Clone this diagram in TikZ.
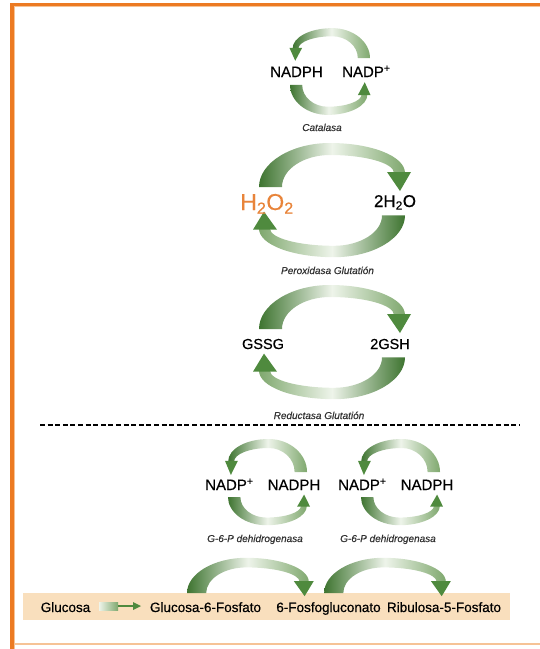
\documentclass[tikz,border=0pt]{standalone}
\usepackage{fontspec}
\setmainfont{Liberation Sans}[FakeBold=0.5]
\definecolor{frameorange}{HTML}{EC7A22}
\definecolor{frameline}{HTML}{F6C396}
\definecolor{oxorange}{HTML}{E8843A}
\definecolor{gdark}{HTML}{3E7430}
\definecolor{gmid}{HTML}{7FA86E}
\definecolor{glight}{HTML}{EEF4EA}
\definecolor{ghead}{HTML}{4F8A3E}
\definecolor{barbeige}{HTML}{F9DFBD}
\definecolor{labelgrey}{HTML}{333333}

% One curved reaction arrow: a tapering shaded band and its head.
% Template: base on the left, arching up, head on the right.
% #1 = placement (shift and scales), #2 = shading of the band
\newcommand{\bandarc}[2]{%
  \begin{scope}[#1]
    \shade[#2] (-73,12) .. controls (-73,36) and (-41,56) .. (-2,56)
      .. controls (39,56) and (73,43) .. (73,26)
      -- (62,26) .. controls (62,36) and (33,44) .. (-2,44)
      .. controls (-28,44) and (-50,30) .. (-50,12) -- cycle;
    \fill[ghead] (55,27) -- (79,27) -- (68,8) -- cycle;
  \end{scope}}

\begin{document}
\begin{tikzpicture}[x=1pt, y=-1pt,
  species/.style={font=\fontsize{15}{18}\selectfont, inner sep=0pt},
  enzyme/.style={font=\fontsize{10}{12}\selectfont\itshape, text=labelgrey, inner sep=0pt},
  pathway/.style={font=\fontsize{13.5}{16}\selectfont, inner sep=0pt},
  darkfirst/.style={left color=gdark, right color=gmid, middle color=glight},
  darklast/.style={left color=gmid, right color=gdark, middle color=glight}]
\useasboundingbox (0,0) rectangle (540,649);

% frame
\fill[frameline] (13.5,5.8) rectangle (540,6.8);
\fill[frameline] (13.5,5.8) rectangle (15,649);
\fill[frameorange] (10,3) rectangle (540,5.8);
\fill[frameorange] (10,3) rectangle (13.5,649);
\fill[frameline] (15,643.3) rectangle (540,645);

% catalase cycle
\bandarc{shift={(331.3,66.2)}, xscale=-0.53, yscale=-0.68}{darkfirst}
\bandarc{shift={(328.7,76.8)}, xscale=0.53, yscale=0.68}{darkfirst}
\node[species, anchor=base] (nadphA) at (296.5,77) {NADPH};
\node[species, anchor=base west] (nadpA) at (342,77) {NADP\textsuperscript{+}};
\node[enzyme, anchor=base] (catalasa) at (322,131) {Catalasa};

% glutathione peroxidase cycle
\bandarc{shift={(332,199)}, xscale=1, yscale=-1}{darkfirst}
\bandarc{shift={(332,204)}, xscale=-1, yscale=0.95}{darklast}
\node[anchor=base, inner sep=0pt, text=oxorange, font=\fontsize{23}{26}\selectfont]
  (hperox) at (267,210) {H\textsubscript{2}O\textsubscript{2}};
\node[anchor=base, inner sep=0pt, font=\fontsize{17}{20}\selectfont]
  (water) at (395,207) {2H\textsubscript{2}O};
\node[enzyme, anchor=base] (gpx) at (327.5,274) {Peroxidasa Glutatión};

% glutathione reductase cycle
\bandarc{shift={(332,341)}, xscale=1, yscale=-1}{darkfirst}
\bandarc{shift={(332,346)}, xscale=-1, yscale=0.95}{darklast}
\node[species, anchor=base, font=\fontsize{14.5}{17}\selectfont] (gssg) at (263,349) {GSSG};
\node[species, anchor=base, font=\fontsize{14.5}{17}\selectfont] (gsh) at (390,349) {2GSH};
\node[enzyme, anchor=base] (gr) at (319,419) {Reductasa Glutatión};

% separator
\coordinate (sepL) at (40,425);
\coordinate (sepR) at (520,425);
\draw[line width=1.8pt, dash pattern=on 5pt off 2.6pt] (sepL) -- (sepR);

% G-6-P dehydrogenase cycles
\foreach \dx/\n in {0/1, 133/2} {
  \bandarc{shift={(267.6+\dx,481)}, xscale=-0.54, yscale=-0.75}{darkfirst}
  \bandarc{shift={(267.4+\dx,489.4)}, xscale=0.54, yscale=0.64}{darkfirst}
  \node[species, anchor=base west] (nadpB\n) at (205+\dx,490) {NADP\textsuperscript{+}};
  \node[species, anchor=base] (nadphB\n) at (294+\dx,490) {NADPH};
  \node[enzyme, anchor=base] (g6pd\n) at (255+\dx,542) {G-6-P dehidrogenasa};
}

% pentose phosphate pathway bar
\fill[barbeige] (23,593) rectangle (510,620);
\bandarc{shift={(247.9,602.6)}, xscale=0.834, yscale=-0.8}{darkfirst}
\bandarc{shift={(385,602.6)}, xscale=0.834, yscale=-0.8}{darkfirst}
\node[pathway, anchor=base] (glu) at (65.5,612) {Glucosa};
\node[pathway, anchor=base] (g6p) at (205.5,612) {Glucosa-6-Fosfato};
\node[pathway, anchor=base] (pg) at (328.5,612) {6-Fosfogluconato};
\node[pathway, anchor=base] (ru5p) at (444,612) {Ribulosa-5-Fosfato};

% short arrow Glucosa -> Glucosa-6-Fosfato
\coordinate (arrS) at (99,606);
\coordinate (arrM) at (118,606);
\coordinate (arrE) at (141,606);
\shade[left color=glight, right color=gmid] ([yshift=-4pt]arrS) rectangle ([yshift=4pt]arrM);
\draw[ghead, line width=1.8pt] (arrM) -- ([xshift=-6pt]arrE);
\fill[ghead] (arrE) -- ([xshift=-8pt,yshift=-4pt]arrE) -- ([xshift=-8pt,yshift=4pt]arrE) -- cycle;
\end{tikzpicture}
\end{document}
